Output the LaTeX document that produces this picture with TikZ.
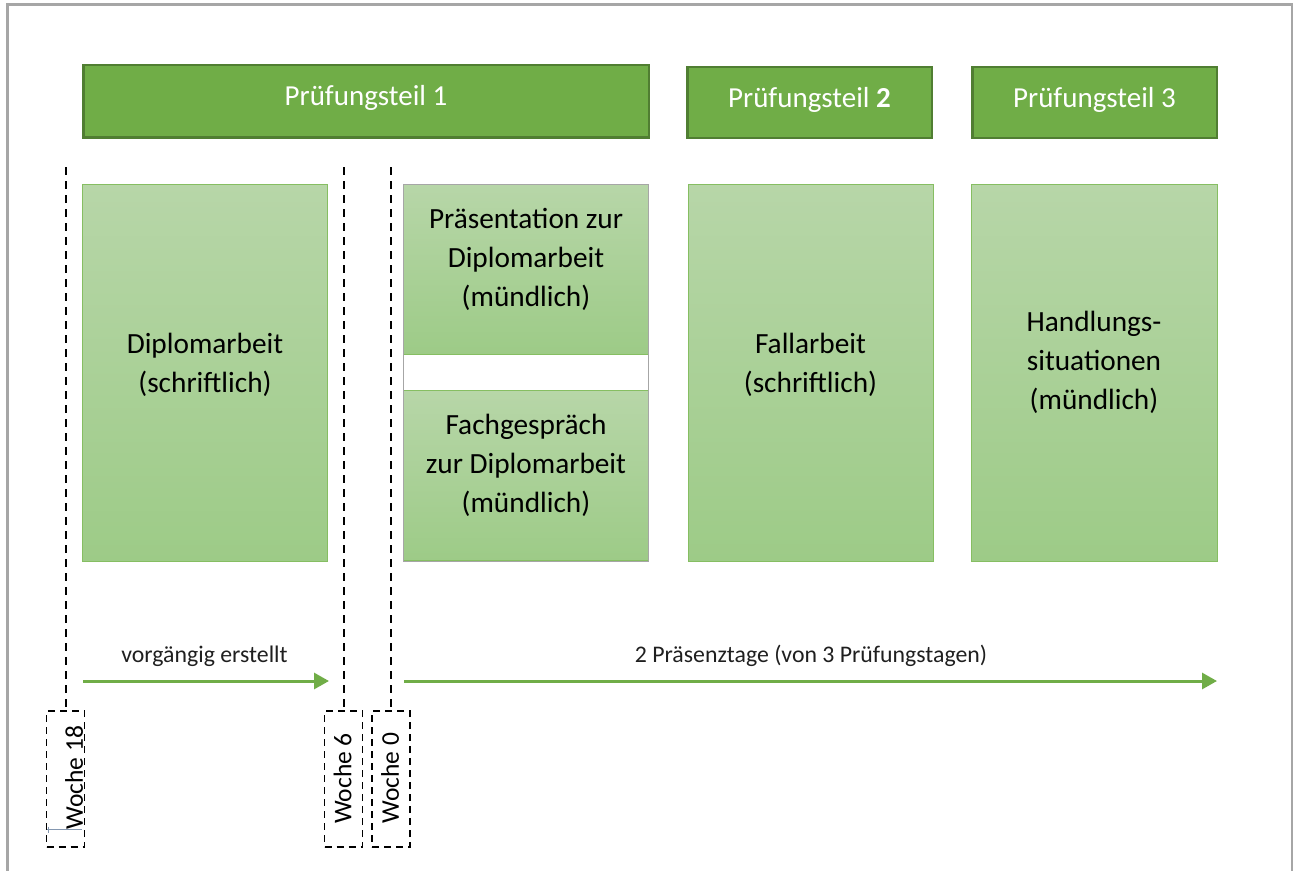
\documentclass[tikz,border=0pt]{standalone}
\usepackage{fontspec}
\setmainfont{Carlito}
\usetikzlibrary{arrows.meta}
\definecolor{hdr}{HTML}{70AD47}
\definecolor{hdrline}{HTML}{507E32}
\definecolor{boxtop}{RGB}{183,214,168}
\definecolor{boxbot}{RGB}{157,203,135}
\definecolor{boxline}{HTML}{86BE62}
\definecolor{framegray}{HTML}{A6A6A6}
\definecolor{slate}{HTML}{8497B0}
\begin{document}
\begin{tikzpicture}[x=1pt,y=-1pt,
  header/.style={draw=hdrline, line width=2.5pt, fill=hdr, text=white, font=\fontsize{29}{34}\selectfont, inner sep=0pt, minimum height=71pt, text height=20pt, text depth=11pt},
  stage/.style={draw=boxline, line width=1pt, top color=boxtop, bottom color=boxbot, inner sep=0pt, minimum width=245pt},
  boxtext/.style={align=center, font=\fontsize{29.3}{39}\selectfont, inner sep=0pt},
  guide/.style={black, line width=2pt, dash pattern=on 8pt off 6pt},
  week/.style={draw=black, line width=1.8pt, dash pattern=on 7pt off 5pt, inner sep=0pt, minimum width=38pt, minimum height=136pt},
  weektext/.style={rotate=90, font=\fontsize{25.5}{28}\selectfont, inner sep=0pt},
  span/.style={draw=hdr, line width=3pt, -{Triangle[length=15pt,width=16pt]}},
  spanlabel/.style={font=\fontsize{23.8}{28}\selectfont, text=black!88, inner sep=0pt}
]
\useasboundingbox (0,0) rectangle (1298,870);
% frame (open at bottom)
\draw[framegray, line width=2.5pt] (7.3,875) -- (7.3,4.7) -- (1292,4.7) -- (1292,875);

% headers
\node[header, minimum width=565.5pt, minimum height=72.5pt] (h1) at (366,101) {Prüfungsteil 1};
\node[header, minimum width=244.5pt] (h2) at (809.5,102.5) {Prüfungsteil \textbf{2}};
\node[header, minimum width=244.5pt] (h3) at (1094.5,102.5) {Prüfungsteil 3};

% stage boxes
\node[stage, minimum height=377pt] (dip) at (205,373) {};
\node[stage, minimum height=170pt] (pres) at (526,269.5) {};
\node[stage, minimum height=170pt] (fach) at (526,475.5) {};
\node[draw=framegray, line width=1pt, inner sep=0pt, minimum width=245pt, minimum height=377pt] (pair) at (526,372.5) {};
\node[stage, minimum height=377pt] (fall) at (810.5,372.5) {};
\node[stage, minimum height=377pt, minimum width=246pt] (hand) at (1094,373) {};

\node[boxtext] (diptext) at (205,364.5) {Diplomarbeit\\(schriftlich)};
\node[boxtext] (prestext) at (526,259.5) {Präsentation zur\\Diplomarbeit\\(mündlich)};
\node[boxtext] (fachtext) at (526,465.5) {Fachgespräch\\zur Diplomarbeit\\(mündlich)};
\node[boxtext] (falltext) at (810.5,364.5) {Fallarbeit\\(schriftlich)};
\node[boxtext] (handtext) at (1094,362.5) {Handlungs-\\situationen\\(mündlich)};

% week boxes
\node[week] (w18) at (65.5,779) {};
\node[week] (w6) at (343.5,779) {};
\node[week] (w0) at (391,779) {};
\node[weektext] (w18text) at (74,777.5) {Woche 18};
\node[weektext] (w6text) at (342.5,778.5) {Woche 6};
\node[weektext] (w0text) at (390,778) {Woche 0};
\draw[slate, line width=0.8pt] (46.7,829.3) -- (82.3,829.3) (48.3,826.7) -- (48.3,832.7);

% dashed guides
\coordinate (g18) at (65.5,167);
\coordinate (g6) at (343.5,167);
\coordinate (g0) at (391,167);
\draw[guide] (g18) -- (w18.north);
\draw[guide] (g6) -- (w6.north);
\draw[guide] (g0) -- (w0.north);

% spans
\coordinate (a1s) at (83,681);
\coordinate (a1e) at (329,681);
\coordinate (a2s) at (404,681);
\coordinate (a2e) at (1217,681);
\draw[span] (a1s) -- (a1e);
\draw[span] (a2s) -- (a2e);
\node[spanlabel] (l1) at (204.5,656) {vorgängig erstellt};
\node[spanlabel] (l2) at (811,656) {2 Präsenztage (von 3 Prüfungstagen)};
\end{tikzpicture}
\end{document}
